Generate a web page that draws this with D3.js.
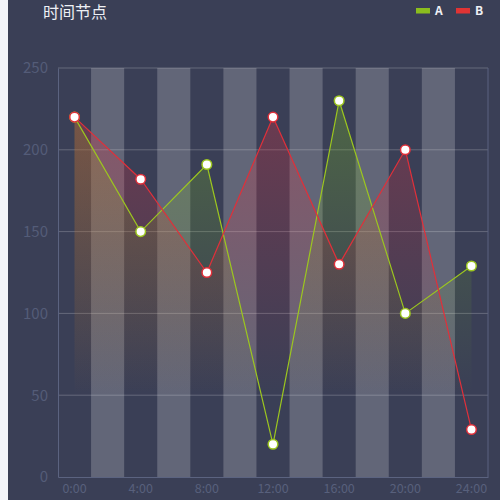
<!DOCTYPE html>
<html>
<head>
<meta charset="utf-8">
<script src="https://cdn.jsdelivr.net/npm/d3@7"></script>
<style>
  body { margin: 0; background: #f3f5fa; }
  svg { display: block; }
  text { font-family: "Noto Sans CJK SC", "Noto Sans", sans-serif; }
</style>
</head>
<body>
<div id="main"></div>
<script>
// categories on the x axis (every 2 hours), data only on every 4 hours
const categories = ['0:00','2:00','4:00','6:00','8:00','10:00','12:00','14:00','16:00','18:00','20:00','22:00','24:00']
const hours = ['0:00','4:00','8:00','12:00','16:00','20:00','24:00']
const seriesA = [220, 150, 191, 20, 230, 100, 129]
const seriesB = [220, 182, 125, 220, 130, 200, 29]
const yTicks = [0, 50, 100, 150, 200, 250]
const legendNames = ['A', 'B']

const W = 500, H = 500
const plotLeft = 58, plotRight = 488, plotTop = 68, plotBottom = 477

var svg = d3.select('#main')
  .append('svg')
  .attr('width', W)
  .attr('height', H)

svg.append('rect')
  .attr('x', 8).attr('y', 0)
  .attr('width', W - 8).attr('height', H)
  .attr('fill', '#3a3f56')

var x = d3.scaleBand().domain(categories).range([plotLeft, plotRight]).padding(0)
var y = d3.scaleLinear().domain([0, 250]).range([plotBottom, plotTop])
var cx = (d) => x(d) + x.bandwidth() / 2

// alternating split areas
svg.append('g')
  .selectAll('rect')
  .data(categories.filter((d, i) => i % 2 == 1))
  .enter()
  .append('rect')
  .attr('x', (d) => x(d))
  .attr('y', plotTop)
  .attr('width', x.bandwidth())
  .attr('height', plotBottom - plotTop)
  .attr('fill', 'rgba(250,250,250,0.21)')

// horizontal grid lines
svg.append('g')
  .selectAll('line')
  .data(yTicks.filter((d) => d > 0))
  .enter()
  .append('line')
  .attr('x1', plotLeft).attr('x2', plotRight)
  .attr('y1', (d) => y(d)).attr('y2', (d) => y(d))
  .attr('stroke', 'rgba(255,255,255,0.22)')
  .attr('stroke-width', 1)

// right border
svg.append('line')
  .attr('x1', plotRight).attr('x2', plotRight)
  .attr('y1', plotTop).attr('y2', plotBottom)
  .attr('stroke', '#5b6380')

// gradients
var defs = svg.append('defs')
function gradient(id, color, op) {
  var g = defs.append('linearGradient')
    .attr('id', id)
    .attr('x1', 0).attr('y1', 0).attr('x2', 0).attr('y2', 1)
  g.append('stop').attr('offset', 0).attr('stop-color', color).attr('stop-opacity', op)
  g.append('stop').attr('offset', 0.78).attr('stop-color', color).attr('stop-opacity', 0)
}
gradient('gradA', '#7cc020', 0.3)
gradient('gradB', '#e83040', 0.28)

var series = [
  { name: 'A', values: seriesA, line: '#9cc61f', grad: 'url(#gradA)' },
  { name: 'B', values: seriesB, line: '#e0303a', grad: 'url(#gradB)' }
]

var area = d3.area()
  .x((d, i) => cx(hours[i]))
  .y0(y(0))
  .y1((d) => y(d))
var line = d3.line()
  .x((d, i) => cx(hours[i]))
  .y((d) => y(d))

series.forEach(function (s) {
  svg.append('path')
    .datum(s.values)
    .attr('d', area)
    .attr('fill', s.grad)
})

series.forEach(function (s) {
  svg.append('path')
    .datum(s.values)
    .attr('d', line)
    .attr('fill', 'none')
    .attr('stroke', s.line)
    .attr('stroke-width', 1.2)
})

series.forEach(function (s) {
  svg.append('g')
    .selectAll('circle')
    .data(s.values)
    .enter()
    .append('circle')
    .attr('cx', (d, i) => cx(hours[i]))
    .attr('cy', (d) => y(d))
    .attr('r', 4.8)
    .attr('fill', '#fff')
    .attr('stroke', s.line)
    .attr('stroke-width', 1.5)
})

// axes
var xAxis = d3.axisBottom(x).tickValues(hours).tickSize(0).tickPadding(7)
var gx = svg.append('g')
  .attr('transform', 'translate(0,' + plotBottom + ')')
  .call(xAxis)
gx.select('.domain').attr('stroke', '#5b6380')
gx.selectAll('text')
  .attr('fill', '#58607c')
  .style('font-size', '12.5px')

var yAxis = d3.axisLeft(y).tickValues(yTicks).tickSize(0).tickPadding(10)
var gy = svg.append('g')
  .attr('transform', 'translate(' + plotLeft + ',0)')
  .call(yAxis)
gy.select('.domain').attr('stroke', '#5b6380')
gy.selectAll('text')
  .attr('fill', '#545c78')
  .style('font-size', '15px')

// title
svg.append('text')
  .attr('x', 43).attr('y', 18)
  .attr('fill', '#eef0f5')
  .style('font-size', '16px')
  .text('时间节点')

// legend
var legendColors = ['#8bbd1e', '#e03434']
var lg = svg.append('g')
legendNames.forEach(function (n, i) {
  lg.append('rect')
    .attr('x', 416 + i * 40).attr('y', 8)
    .attr('width', 14).attr('height', 5.5)
    .attr('fill', legendColors[i])
  lg.append('text')
    .attr('x', 435 + i * 40).attr('y', 14.5)
    .attr('fill', '#eef0f5')
    .style('font-size', '12px')
    .style('font-weight', 'bold')
    .text(n)
})
</script>
</body>
</html>
